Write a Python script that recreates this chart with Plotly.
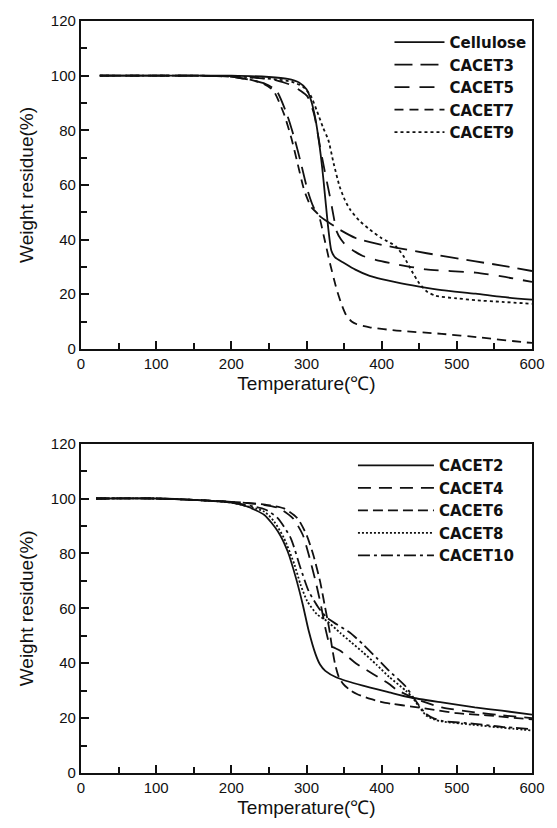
import plotly.graph_objects as go

# ---------------- Top panel data ----------------
cellulose_T = [25, 100, 200, 250, 275, 290, 300, 306, 312, 317, 321, 325, 329, 333, 338, 349, 365, 384, 400, 420, 450, 480, 525, 560, 600]
cellulose_W = [100, 100, 100, 99.5, 98.8, 97.5, 95, 91, 84, 75, 66, 55, 44, 36, 33.5, 31.6, 29, 26.7, 25.5, 24.3, 22.8, 21.5, 20.2, 19, 18]

cacet3_T = [25, 150, 200, 225, 245, 260, 275, 285, 293, 302, 310, 318, 331, 345, 366, 393, 420, 460, 525, 560, 600]
cacet3_W = [100, 100, 99.6, 98.5, 97, 94.5, 85, 76, 67.5, 57.5, 51.5, 48.5, 46, 43.5, 40.5, 38.5, 37, 35, 32, 30.5, 28.5]

cacet5_T = [25, 150, 200, 230, 260, 280, 292, 301, 310, 318, 325, 331, 336, 340, 346, 353, 365, 375, 393, 419, 459, 525, 560, 600]
cacet5_W = [100, 100, 99.8, 99.3, 98.3, 96.5, 94.5, 92.5, 86, 74, 64, 56, 48.6, 43.1, 40, 37.7, 35.5, 34, 32.5, 31, 29.1, 27.9, 26.5, 24.5]

cacet7_T = [25, 150, 200, 225, 243, 256, 270, 280, 288, 297, 306, 316, 323, 331, 340, 347, 353, 360, 367, 384, 420, 480, 530, 590, 600]
cacet7_W = [100, 100, 99.6, 98.5, 97, 94.5, 86, 77, 68, 58, 52, 49, 41.3, 31.6, 21.9, 16, 12.2, 10, 9, 7.9, 6.7, 5.5, 4.2, 2.4, 2.2]

cacet9_T = [25, 150, 200, 230, 260, 280, 295, 305, 314, 322, 329, 336, 344, 351, 358, 370, 384, 400, 419, 430, 440, 450, 460, 472, 500, 525, 560, 600]
cacet9_W = [100, 100, 99.8, 99.3, 98.6, 97.8, 96, 93, 87, 81, 76.5, 68, 59.5, 54.5, 51, 47, 43.7, 40.5, 37.5, 33.5, 28.5, 24, 21, 19.4, 18.5, 17.8, 17.2, 16.5]

# ---------------- Bottom panel data ----------------
cacet2_T = [20, 100, 150, 200, 222, 244, 262, 275, 286, 295, 303, 312, 318, 325, 340, 375, 410, 437, 480, 524, 560, 600]
cacet2_W = [100, 100, 99.5, 98.5, 97, 94, 88, 80.7, 71, 61.4, 51.7, 43.3, 39.5, 37.2, 34.8, 31.8, 29.4, 27.6, 25.7, 23.9, 22.7, 21.3]

cacet4_T = [20, 100, 150, 200, 240, 264, 282, 295, 303, 312, 319, 325, 330, 334, 338, 345, 367, 389, 410, 419, 445, 480, 524, 560, 600]
cacet4_W = [100, 100, 99.5, 98.8, 97.8, 96.4, 92.8, 86.8, 79.5, 69.9, 61.4, 52.9, 47.5, 46, 45.5, 44.5, 39.7, 36, 32.4, 30.5, 27, 23.9, 22.1, 21, 20]

cacet6_T = [20, 100, 150, 200, 245, 270, 288, 300, 309, 318, 324, 330, 334, 338, 343, 349, 358, 367, 385, 402, 414, 440, 470, 500, 540, 600]
cacet6_W = [100, 100, 99.5, 98.8, 97.8, 96.4, 92.8, 86.8, 79.5, 69.9, 61.4, 52.9, 45.7, 39.7, 35, 32.4, 30.2, 28.8, 27, 25.7, 25.2, 24.2, 23, 21.8, 21, 19.5]

cacet8_T = [20, 100, 150, 200, 244, 257, 270, 284, 292, 301, 314, 327, 345, 360, 375, 393, 410, 432, 441, 450, 459, 470, 480, 524, 560, 600]
cacet8_W = [100, 100, 99.5, 98.5, 95.2, 91.6, 85.6, 75.9, 68.7, 62.6, 57.8, 55.4, 51, 47.5, 44, 39.5, 35, 30, 27.5, 24, 21, 19.5, 18.8, 17.5, 16.5, 15.5]

cacet10_T = [20, 100, 150, 200, 245, 262, 279, 292, 303, 316, 327, 340, 358, 375, 393, 410, 432, 441, 450, 459, 470, 480, 524, 560, 600]
cacet10_W = [100, 100, 99.5, 98.6, 96, 92.8, 85.6, 74.7, 66.2, 60.2, 56.6, 54.2, 51.1, 46.9, 42, 37.2, 31.5, 28, 24.5, 21.5, 19.8, 19, 17.9, 16.8, 16]

x_ticks = [0, 100, 200, 300, 400, 500, 600]
y_ticks = [0, 20, 40, 60, 80, 100, 120]

INK = "#111111"
FONT = "Liberation Sans, Arial, sans-serif"

top_series = [
    ("Cellulose", cellulose_T, cellulose_W, "solid"),
    ("CACET3", cacet3_T, cacet3_W, "18px,8px"),
    ("CACET5", cacet5_T, cacet5_W, "15px,10px"),
    ("CACET7", cacet7_T, cacet7_W, "9px,6px"),
    ("CACET9", cacet9_T, cacet9_W, "3px,3px"),
]
bottom_series = [
    ("CACET2", cacet2_T, cacet2_W, "solid"),
    ("CACET4", cacet4_T, cacet4_W, "13px,8px"),
    ("CACET6", cacet6_T, cacet6_W, "10px,5px"),
    ("CACET8", cacet8_T, cacet8_W, "2px,2px"),
    ("CACET10", cacet10_T, cacet10_W, "12px,4px,3px,4px"),
]

fig = go.Figure()
for name, t, w, dash in top_series:
    fig.add_trace(go.Scatter(x=t, y=w, mode="lines", name=name,
                             line=dict(color=INK, width=1.8, dash=dash, shape="spline", smoothing=0.6),
                             xaxis="x", yaxis="y", legend="legend"))
for name, t, w, dash in bottom_series:
    fig.add_trace(go.Scatter(x=t, y=w, mode="lines", name=name,
                             line=dict(color=INK, width=1.8, dash=dash, shape="spline", smoothing=0.6),
                             xaxis="x2", yaxis="y2", legend="legend2"))

def xax(anchor):
    return dict(range=[0, 600], tickvals=x_ticks, anchor=anchor,
                showline=True, linewidth=2.2, linecolor=INK, mirror=True,
                ticks="inside", ticklen=8, tickwidth=1.5, tickcolor=INK,
                minor=dict(ticks="inside", ticklen=6, tickwidth=1.5, dtick=50, tickcolor=INK),
                showgrid=False, zeroline=False,
                tickfont=dict(family=FONT, size=15, color=INK),
                title=dict(text="Temperature(℃)", font=dict(family=FONT, size=19, color=INK), standoff=6))

def yax(anchor, domain):
    return dict(range=[0, 120], tickvals=y_ticks, anchor=anchor, domain=domain,
                showline=True, linewidth=2.2, linecolor=INK, mirror=True,
                ticks="inside", ticklen=8, tickwidth=1.5, tickcolor=INK,
                minor=dict(ticks="inside", ticklen=6, tickwidth=1.5, dtick=10, tickcolor=INK),
                showgrid=False, zeroline=False,
                tickfont=dict(family=FONT, size=15, color=INK),
                title=dict(text="Weight residue(%)", font=dict(family=FONT, size=19, color=INK), standoff=12))

legend_font = dict(family="DejaVu Sans, Liberation Sans, sans-serif", size=15, color=INK, weight="bold")

fig.update_layout(
    width=557, height=828,
    margin=dict(l=81, r=20, t=17, b=55),
    paper_bgcolor="white", plot_bgcolor="white",
    showlegend=True,
    xaxis=xax("y"),
    yaxis=yax("x", [0.564, 1.0]),
    xaxis2=xax("y2"),
    yaxis2=yax("x2", [0.0, 0.438]),
    legend=dict(x=0.684, y=0.9934, xanchor="left", yanchor="top", font=legend_font,
                bgcolor="rgba(0,0,0,0)", itemwidth=50, tracegroupgap=0),
    legend2=dict(x=0.603, y=0.4306, xanchor="left", yanchor="top", font=legend_font,
                 bgcolor="rgba(0,0,0,0)", itemwidth=76, tracegroupgap=0),
)

fig.write_html("out.html")
